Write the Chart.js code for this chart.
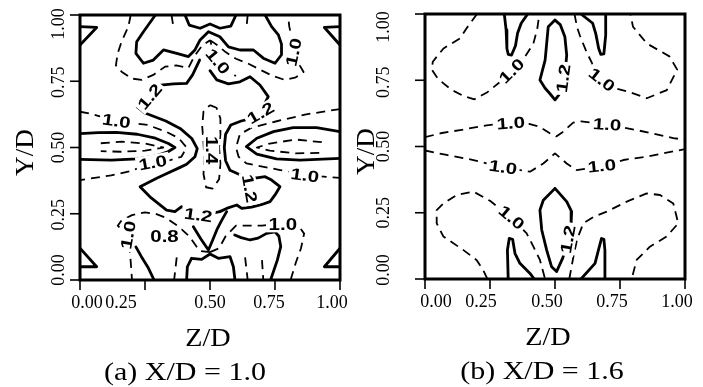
<!DOCTYPE html>
<html><head><meta charset="utf-8">
<script src="https://cdn.jsdelivr.net/npm/chart.js@4/dist/chart.umd.min.js"></script>
<style>
html,body{margin:0;padding:0;background:#fff;}
#wrap{position:relative;width:703px;height:387px;overflow:hidden;background:#fff;}
canvas{position:absolute;top:0;}
</style></head><body>
<div id="wrap">
<canvas id="ca" width="360" height="387" style="left:0px"></canvas>
<canvas id="cb" width="358" height="387" style="left:345px"></canvas>
</div>
<script>
// ---------- axis ticks ----------
const tickValues = [0, 0.25, 0.5, 0.75, 1];
const tickLabels = ['0.00', '0.25', '0.50', '0.75', '1.00'];

// ---------- panel (a) X/D = 1.0 : contour polylines [Z/D, Y/D] ----------
const aCornerTL = [[0,0.956],[0.064,0.953],[0,0.887]];
const aCornerTR = [[1,0.956],[0.94,0.953],[1,0.887]];
const aCornerBL = [[0,0.12],[0.064,0.05],[0,0.05]];
const aCornerBR = [[1,0.12],[0.94,0.05],[1,0.05]];
const aTopW = [[0.29,1.0],[0.244,0.937],[0.218,0.899],[0.215,0.855],[0.244,0.818],[0.282,0.83],[0.321,0.868],[0.372,0.855],[0.417,0.843],[0.442,0.868],[0.462,0.906],[0.494,0.937],[0.538,0.918],[0.571,0.88],[0.615,0.868],[0.667,0.868],[0.705,0.837],[0.75,0.818],[0.775,0.85],[0.775,0.89],[0.763,0.925],[0.737,0.956],[0.712,1.0]];
const aTopCrown = [[0.404,1.0],[0.42,0.962],[0.462,0.95],[0.5,0.966],[0.538,0.95],[0.58,0.958],[0.6,1.0]];
const aLeft12 = [[0.46,0.83],[0.433,0.774],[0.41,0.742],[0.36,0.74],[0.31,0.735],[0.27,0.69],[0.22,0.653],[0.25,0.63],[0.33,0.60],[0.385,0.572],[0.43,0.534],[0.451,0.496],[0.442,0.465],[0.41,0.437],[0.385,0.425],[0.33,0.40],[0.295,0.384],[0.231,0.352],[0.269,0.314],[0.333,0.264],[0.365,0.258],[0.391,0.277],[0.42,0.26],[0.46,0.245],[0.5,0.25],[0.538,0.258]];
const aRight12 = [[0.50,0.79],[0.526,0.755],[0.571,0.74],[0.615,0.748],[0.654,0.767],[0.692,0.736],[0.724,0.692],[0.70,0.645],[0.66,0.61],[0.62,0.60],[0.58,0.585],[0.56,0.55],[0.555,0.5],[0.56,0.45],[0.577,0.414],[0.609,0.40],[0.645,0.39],[0.68,0.385],[0.712,0.39],[0.737,0.377],[0.769,0.352],[0.75,0.321],[0.731,0.296],[0.70,0.285],[0.66,0.275],[0.622,0.27],[0.603,0.283],[0.564,0.27],[0.538,0.258]];
const aBotV = [[0.436,0.201],[0.465,0.155],[0.494,0.113],[0.51,0.15],[0.526,0.189],[0.545,0.225],[0.564,0.258]];
const aBotCrown = [[0.41,0],[0.413,0.05],[0.429,0.082],[0.468,0.078],[0.5,0.098],[0.532,0.082],[0.577,0.088],[0.59,0.05],[0.596,0]];
const aBotLeftArm = [[0.215,0.125],[0.235,0.09],[0.263,0.045],[0.285,0]];
const aBotRight = [[0.595,0.17],[0.62,0.16],[0.654,0.151],[0.685,0.158],[0.718,0.176],[0.75,0.182],[0.765,0.165],[0.772,0.126],[0.759,0.075],[0.733,0]];
const aLobeL = [[0,0.552],[0.07,0.556],[0.14,0.557],[0.22,0.55],[0.29,0.535],[0.34,0.515],[0.365,0.5],[0.34,0.485],[0.29,0.468],[0.22,0.457],[0.12,0.452],[0,0.455]];
const aLobeR = [[1,0.56],[0.91,0.575],[0.82,0.575],[0.744,0.56],[0.68,0.535],[0.64,0.503],[0.68,0.475],[0.756,0.457],[0.846,0.452],[1,0.459]];

const aLeft10 = [[0,0.635],[0.04,0.628],[0.14,0.60],[0.26,0.585],[0.33,0.56],[0.38,0.535],[0.41,0.50],[0.39,0.465],[0.34,0.45],[0.28,0.44],[0.19,0.41],[0.12,0.395],[0,0.377]];
const aRight10 = [[1,0.645],[0.87,0.625],[0.76,0.60],[0.66,0.575],[0.615,0.55],[0.60,0.50],[0.61,0.465],[0.64,0.44],[0.77,0.415],[0.87,0.395],[1,0.385]];
const aLobeInL = [[0.08,0.516],[0.16,0.522],[0.25,0.515],[0.32,0.5],[0.25,0.488],[0.16,0.484],[0.08,0.486]];
const aLobeInR = [[0.93,0.52],[0.83,0.53],[0.73,0.515],[0.68,0.5],[0.73,0.488],[0.83,0.478],[0.93,0.48]];
const a14 = [[0.50,0.66],[0.525,0.65],[0.54,0.61],[0.54,0.55],[0.535,0.5],[0.54,0.44],[0.535,0.38],[0.51,0.345],[0.485,0.35],[0.475,0.40],[0.478,0.46],[0.475,0.52],[0.47,0.58],[0.475,0.635],[0.50,0.66]];
const aTopArcL = [[0.195,1.0],[0.186,0.956],[0.16,0.9],[0.145,0.855],[0.138,0.81],[0.16,0.786],[0.2,0.76],[0.237,0.755],[0.282,0.774],[0.327,0.805],[0.37,0.81],[0.417,0.80],[0.44,0.845],[0.47,0.885],[0.5,0.905]];
const aTopArcR = [[0.5,0.905],[0.53,0.885],[0.56,0.86],[0.6,0.835],[0.65,0.815],[0.7,0.79],[0.737,0.772],[0.788,0.755],[0.83,0.765],[0.86,0.785],[0.845,0.81],[0.825,0.855],[0.815,0.91],[0.805,0.956],[0.8,1.0]];
const aTop10 = [[0.5,0.905],[0.515,0.86],[0.535,0.815],[0.56,0.785],[0.6,0.77]];
const aTopTickL = [[0.352,1.0],[0.36,0.95]];
const aTopTickR = [[0.645,1.0],[0.64,0.95]];
const aBL10 = [[0.5,0.105],[0.46,0.11],[0.42,0.165],[0.375,0.205],[0.33,0.235],[0.29,0.25],[0.25,0.255],[0.2,0.245],[0.16,0.225],[0.145,0.205],[0.16,0.19],[0.185,0.175],[0.19,0.13],[0.195,0.07],[0.2,0.0]];
const aBR10 = [[0.5,0.105],[0.535,0.12],[0.56,0.165],[0.6,0.205],[0.65,0.205],[0.7,0.205],[0.74,0.21],[0.78,0.21],[0.84,0.205],[0.862,0.175],[0.85,0.12],[0.83,0.065],[0.81,0.0]];
const aBotTickL = [[0.372,0.085],[0.362,0.0]];
const aBotTickR = [[0.635,0.085],[0.645,0.0]];
const aBotTickR2 = [[0.70,0.075],[0.705,0.0]];

const aLabels = [
  ['1.0',0.14,0.60,8], ['1.0',0.28,0.443,-10], ['1.0',0.865,0.395,8],
  ['1.2',0.268,0.692,-50], ['1.2',0.695,0.63,-30], ['1.4',0.505,0.49,90],
  ['1.2',0.652,0.345,80], ['1.2',0.455,0.245,8], ['1.0',0.78,0.21,0],
  ['1.0',0.185,0.17,-80], ['0.8',0.325,0.165,0], ['1.0',0.53,0.825,50],
  ['1.0',0.822,0.86,-78]
];

// ---------- panel (b) X/D = 1.6 ----------
const bFingerTL = [[0.305,1.0],[0.312,0.94],[0.315,0.87],[0.32,0.848],[0.333,0.845],[0.348,0.88],[0.356,0.927],[0.37,0.965],[0.395,1.0]];
const bFingerTR = [[0.60,1.0],[0.645,0.965],[0.657,0.925],[0.668,0.87],[0.676,0.848],[0.688,0.85],[0.695,0.92],[0.695,1.0]];
const bLoopT = [[0.5,0.977],[0.52,0.96],[0.538,0.914],[0.545,0.845],[0.54,0.79],[0.53,0.74],[0.515,0.695],[0.5,0.676],[0.48,0.70],[0.462,0.72],[0.442,0.751],[0.462,0.826],[0.468,0.889],[0.474,0.952],[0.5,0.977]];
const bLoopB = [[0.5,0.342],[0.545,0.292],[0.564,0.254],[0.562,0.21],[0.55,0.15],[0.53,0.08],[0.506,0.028],[0.487,0.046],[0.468,0.109],[0.449,0.185],[0.442,0.26],[0.455,0.297],[0.5,0.342]];
const bFingerBL = [[0.32,0.0],[0.317,0.109],[0.324,0.153],[0.337,0.15],[0.346,0.097],[0.365,0.059],[0.404,0.021],[0.42,0.0]];
const bFingerBR = [[0.6,0.0],[0.654,0.059],[0.667,0.109],[0.679,0.153],[0.688,0.15],[0.692,0.109],[0.692,0.0]];

const bTL10 = [[0.20,1.0],[0.16,0.946],[0.135,0.908],[0.071,0.87],[0.03,0.82],[0.026,0.79],[0.05,0.755],[0.1,0.715],[0.15,0.69],[0.19,0.678],[0.24,0.705],[0.29,0.745],[0.33,0.78],[0.385,0.839],[0.417,0.889],[0.432,0.946],[0.44,1.0]];
const bTR10 = [[0.575,1.0],[0.585,0.95],[0.596,0.918],[0.622,0.855],[0.65,0.8],[0.68,0.75],[0.73,0.72],[0.782,0.707],[0.853,0.682],[0.93,0.713],[0.97,0.79],[0.94,0.84],[0.853,0.889],[0.8,0.952],[0.79,1.0]];
const bMidU10 = [[0,0.535],[0.06,0.55],[0.135,0.562],[0.237,0.58],[0.33,0.59],[0.40,0.585],[0.44,0.575],[0.48,0.55],[0.505,0.538],[0.53,0.555],[0.57,0.59],[0.6,0.595],[0.686,0.585],[0.814,0.562],[0.955,0.532],[1,0.525]];
const bMidL10 = [[0,0.485],[0.083,0.468],[0.186,0.449],[0.3,0.42],[0.404,0.405],[0.455,0.436],[0.5,0.474],[0.545,0.436],[0.583,0.411],[0.68,0.425],[0.763,0.449],[0.853,0.462],[1,0.49]];
const bBL10 = [[0.24,0.0],[0.224,0.033],[0.199,0.071],[0.148,0.109],[0.071,0.16],[0.045,0.21],[0.045,0.26],[0.071,0.285],[0.122,0.317],[0.186,0.33],[0.25,0.295],[0.333,0.23],[0.391,0.172],[0.417,0.122],[0.442,0.072],[0.462,0.0]];
const bBR10 = [[0.555,0.0],[0.57,0.08],[0.585,0.15],[0.609,0.21],[0.65,0.235],[0.699,0.254],[0.776,0.292],[0.853,0.323],[0.904,0.317],[0.955,0.285],[0.974,0.21],[0.929,0.16],[0.865,0.122],[0.814,0.072],[0.795,0.0]];

const bLabels = [
  ['1.0',0.333,0.785,-45], ['1.2',0.532,0.757,-82], ['1.0',0.68,0.752,38],
  ['1.0',0.33,0.588,-4], ['1.0',0.70,0.583,4], ['1.0',0.30,0.422,8],
  ['1.0',0.68,0.427,-6], ['1.0',0.333,0.232,40], ['1.2',0.55,0.15,-80]
];

// ---------- drawing helpers ----------
function txt(ctx, s, x, y, font, sx, rot) {
  ctx.save();
  ctx.translate(x, y);
  ctx.rotate(rot * Math.PI / 180);
  ctx.scale(sx, 1);
  ctx.font = font;
  ctx.textAlign = 'center';
  ctx.textBaseline = 'middle';
  ctx.fillStyle = '#000';
  ctx.fillText(s, 0, 0);
  ctx.restore();
}

const deco = {
  id: 'deco',
  afterDatasetsDraw(chart, args, o) {
    const ctx = chart.ctx, a = chart.chartArea;
    const sx = chart.scales.x, sy = chart.scales.y;
    // contour value labels
    o.labels.forEach(L => {
      const px = sx.getPixelForValue(L[1]), py = sy.getPixelForValue(L[2]);
      ctx.save();
      ctx.translate(px, py);
      ctx.rotate(L[3] * Math.PI / 180);
      ctx.scale(1.28, 1);
      ctx.font = 'bold 16px "Liberation Sans", Arial, sans-serif';
      ctx.textAlign = 'center';
      ctx.textBaseline = 'middle';
      const w = ctx.measureText(L[0]).width;
      ctx.fillStyle = '#fff';
      ctx.fillRect(-w / 2 - 2, -8, w + 4, 16);
      ctx.fillStyle = '#000';
      ctx.fillText(L[0], 0, 1);
      ctx.restore();
    });
    // frame
    ctx.save();
    ctx.strokeStyle = '#000';
    ctx.lineWidth = 3;
    ctx.strokeRect(a.left, a.top, a.right - a.left, a.bottom - a.top);
    ctx.lineWidth = 1.6;
    const tf = '18px "Liberation Serif", "Times New Roman", serif';
    tickValues.forEach((v, i) => {
      const px = sx.getPixelForValue(v), py = sy.getPixelForValue(v);
      ctx.beginPath(); ctx.moveTo(px, a.bottom); ctx.lineTo(px, a.bottom + 10); ctx.stroke();
      ctx.beginPath(); ctx.moveTo(a.left - 10, py); ctx.lineTo(a.left, py); ctx.stroke();
      txt(ctx, tickLabels[i], px + o.xShift[i], a.bottom + 23, tf, 1.0, 0);
      txt(ctx, tickLabels[i], a.left - o.yLabGap, py + o.yShift[i], tf, 1.0, -90);
    });
    const ttf = '25px "Liberation Serif", "Times New Roman", serif';
    txt(ctx, 'Y/D', a.left - o.yTitleGap, (a.top + a.bottom) / 2 + 5, ttf, 1.09, -90);
    txt(ctx, 'Z/D', (a.left + a.right) / 2 + o.zdShift, a.bottom + 59, ttf, 1.13, 0);
    txt(ctx, o.caption, (a.left + a.right) / 2 + o.capShift, a.bottom + 93, ttf, 1.2, 0);
    ctx.restore();
  }
};

function makeSet(arr, dashed) {
  return {
    data: arr.map(p => ({ x: p[0], y: p[1] })),
    showLine: true,
    pointRadius: 0,
    borderColor: '#000',
    borderWidth: dashed ? 1.8 : 2.8,
    borderDash: dashed ? [9, 6] : [],
    borderJoinStyle: 'round',
    borderCapStyle: dashed ? 'butt' : 'round',
    tension: 0,
    fill: false
  };
}

function makeChart(id, solids, dashes, labels, cfg) {
  const datasets = solids.map(s => makeSet(s, false)).concat(dashes.map(d => makeSet(d, true)));
  return new Chart(document.getElementById(id), {
    type: 'scatter',
    data: { datasets },
    options: {
      responsive: false,
      animation: false,
      events: [],
      layout: { padding: cfg.padding },
      scales: {
        x: { type: 'linear', min: 0, max: 1, display: false },
        y: { type: 'linear', min: 0, max: 1, display: false }
      },
      plugins: {
        legend: { display: false },
        tooltip: { enabled: false },
        deco: Object.assign({ labels }, cfg)
      }
    },
    plugins: [deco]
  });
}

makeChart('ca',
  [aCornerTL, aCornerTR, aCornerBL, aCornerBR, aTopW, aTopCrown, aLeft12, aRight12, aBotV, aBotCrown, aBotLeftArm, aBotRight, aLobeL, aLobeR],
  [aLeft10, aRight10, aLobeInL, aLobeInR, a14, aTopArcL, aTopArcR, aTop10, aTopTickL, aTopTickR, aBL10, aBR10, aBotTickL, aBotTickR, aBotTickR2],
  aLabels,
  { padding: { left: 80, right: 20, top: 15, bottom: 107 },
    xShift: [7, -24, 0, -6, -8], yShift: [-10, 1, 0, 1, 9],
    yLabGap: 21, yTitleGap: 54, zdShift: -2, capShift: -25, caption: '(a) X/D = 1.0' });

makeChart('cb',
  [bFingerTL, bFingerTR, bLoopT, bLoopB, bFingerBL, bFingerBR],
  [bTL10, bTR10, bMidU10, bMidL10, bBL10, bBR10],
  bLabels,
  { padding: { left: 80, right: 18, top: 14, bottom: 108 },
    xShift: [11, -9, -8, -8, -8], yShift: [-9, 0, 0, 2, 13],
    yLabGap: 41, yTitleGap: 58, zdShift: -7, capShift: -13, caption: '(b) X/D = 1.6' });
</script>
</body></html>
